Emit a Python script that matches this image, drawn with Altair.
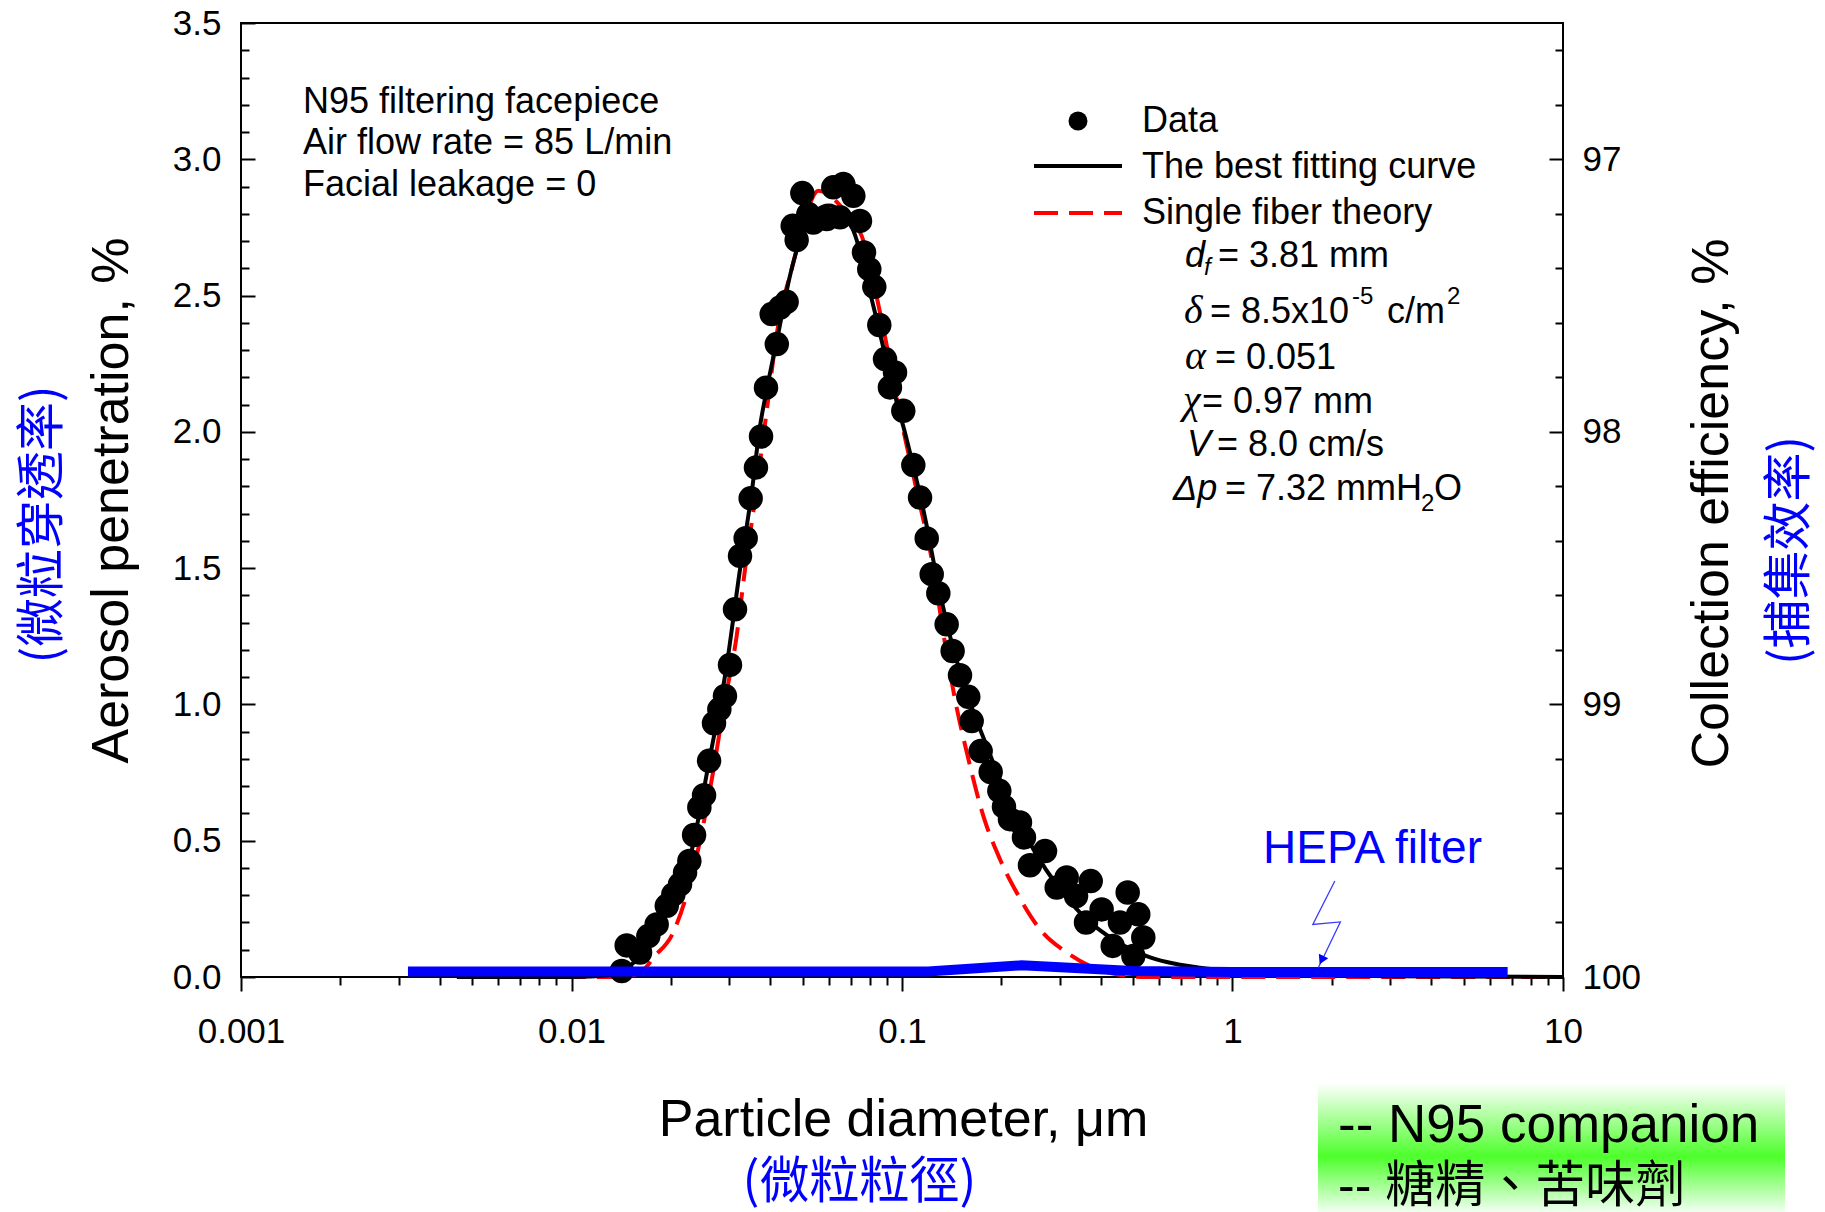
import altair as alt
import pandas as pd

# ------------------------------------------------------------------ data
# measured penetration of the N95 filtering facepiece (diameter in um, penetration in %)
data_diam = [0.01419, 0.01469, 0.01612, 0.01708, 0.01810, 0.01942, 0.02033, 0.02130, 0.02206,
             0.02273, 0.02349, 0.02437, 0.02518, 0.02608, 0.02699, 0.02801, 0.02913, 0.03017,
             0.03124, 0.03235, 0.03365, 0.03484, 0.03615, 0.03745, 0.03877, 0.04034, 0.04180,
             0.04275, 0.04477, 0.04669, 0.04800, 0.04994, 0.05207, 0.05390, 0.05917, 0.06197,
             0.06492, 0.06645, 0.07125, 0.07463, 0.07674, 0.07962, 0.08245, 0.08537, 0.08884,
             0.09194, 0.09525, 0.1009, 0.1082, 0.1134, 0.1188, 0.1230, 0.1288, 0.1365, 0.1423,
             0.1498, 0.1587, 0.1625, 0.1730, 0.1855, 0.1970, 0.2035, 0.2122, 0.2275, 0.2339,
             0.2439, 0.2709, 0.2938, 0.3150, 0.3362, 0.3604, 0.3724, 0.4018, 0.4340, 0.4565,
             0.4818, 0.5012, 0.5187, 0.5371]
data_pen = [0.022, 0.116, 0.090, 0.150, 0.193, 0.261, 0.303, 0.340, 0.383,
            0.426, 0.521, 0.622, 0.667, 0.793, 0.931, 0.982, 1.031, 1.145,
            1.349, 1.545, 1.610, 1.756, 1.869, 1.983, 2.162, 2.432, 2.322,
            2.456, 2.477, 2.756, 2.704, 2.876, 2.799, 2.768, 2.781, 2.897,
            2.787, 2.909, 2.866, 2.774, 2.658, 2.597, 2.532, 2.392, 2.267,
            2.163, 2.218, 2.077, 1.878, 1.759, 1.609, 1.478, 1.408, 1.294, 1.196,
            1.107, 1.028, 0.939, 0.829, 0.752, 0.683, 0.625, 0.579, 0.567, 0.512,
            0.410, 0.462, 0.328, 0.365, 0.297, 0.200, 0.352, 0.248, 0.114, 0.200,
            0.310, 0.077, 0.230, 0.145]

# best fitting curve
fit_diam = [0.0045, 0.010, 0.0131, 0.0150, 0.0165, 0.0195, 0.0227, 0.0261, 0.0295, 0.0323,
            0.0351, 0.0372, 0.0390, 0.0423, 0.0458, 0.0500, 0.0550, 0.0600, 0.0650, 0.0713,
            0.0819, 0.0941, 0.1033, 0.1188, 0.1259, 0.1397, 0.1606, 0.1804, 0.2074, 0.2497,
            0.3007, 0.3622, 0.4359, 0.5500, 0.6322, 0.7974, 1.006, 1.5, 3.0, 10.0]
fit_pen = [0.0, 0.0, 0.006, 0.040, 0.090, 0.250, 0.426, 0.793, 1.145, 1.490,
           1.778, 2.022, 2.157, 2.365, 2.572, 2.730, 2.810, 2.830, 2.810, 2.738,
           2.462, 2.157, 1.973, 1.655, 1.496, 1.251, 1.007, 0.848, 0.664, 0.469,
           0.322, 0.212, 0.138, 0.077, 0.055, 0.034, 0.022, 0.010, 0.003, 0.0]

# single fiber theory
theory_diam = [0.0045, 0.0140, 0.0155, 0.0165, 0.0177, 0.0203, 0.0234, 0.0269, 0.0288, 0.0316,
               0.0335, 0.0360, 0.0390, 0.0418, 0.0469, 0.0520, 0.0558, 0.0600, 0.0650, 0.0700,
               0.0755, 0.0858, 0.0998, 0.1111, 0.1244, 0.1334, 0.1446, 0.1588, 0.1762, 0.1979,
               0.2223, 0.2616, 0.3150, 0.3706, 0.4456, 0.5500, 1.0, 10.0]
theory_pen = [0.0, 0.0, 0.008, 0.025, 0.071, 0.163, 0.395, 0.762, 0.982, 1.251,
              1.496, 1.760, 2.080, 2.360, 2.620, 2.820, 2.885, 2.870, 2.830, 2.780,
              2.719, 2.438, 2.034, 1.778, 1.500, 1.260, 1.020, 0.800, 0.591, 0.432,
              0.310, 0.175, 0.090, 0.040, 0.010, 0.0, 0.0, 0.0]

# HEPA filter
hepa_diam = [0.0032, 0.12, 0.23, 0.5, 1.0, 6.8]
hepa_pen = [0.020, 0.020, 0.043, 0.022, 0.018, 0.018]

# lightning-bolt pointer to the HEPA curve (data units)
bolt_diam = [2.04, 1.75, 2.12, 1.82]
bolt_pen = [0.352, 0.193, 0.202, 0.035]
bolt_order = [0, 1, 2, 3]
bolt_head_diam = [1.86]
bolt_head_pen = [0.062]

# tick values
x_major = [0.001, 0.01, 0.1, 1, 10]
x_minor = [0.002, 0.003, 0.004, 0.005, 0.006, 0.007, 0.008, 0.009,
           0.02, 0.03, 0.04, 0.05, 0.06, 0.07, 0.08, 0.09,
           0.2, 0.3, 0.4, 0.5, 0.6, 0.7, 0.8, 0.9,
           2, 3, 4, 5, 6, 7, 8, 9]
pen_major = [0.0, 0.5, 1.0, 1.5, 2.0, 2.5, 3.0, 3.5]
pen_minor = [0.1, 0.2, 0.3, 0.4, 0.6, 0.7, 0.8, 0.9, 1.1, 1.2, 1.3, 1.4, 1.6, 1.7, 1.8, 1.9,
             2.1, 2.2, 2.3, 2.4, 2.6, 2.7, 2.8, 2.9, 3.1, 3.2, 3.3, 3.4]
eff_major = [0, 1, 2, 3]          # collection efficiency 100, 99, 98, 97 %
eff_minor = [0.2, 0.4, 0.6, 0.8, 1.2, 1.4, 1.6, 1.8, 2.2, 2.4, 2.6, 2.8, 3.2, 3.4]

# ------------------------------------------------------------------ layout
W, H = 1322, 954
PL, PT, PR, PB = 241, 23, 262, 235
FONT = "Liberation Sans, Arial, Helvetica, sans-serif"
SERIF = "Liberation Serif, Times New Roman, serif"
CJK = "Noto Sans CJK TC, Noto Sans CJK SC, sans-serif"
BLUE = "#0000ff"
RED = "#ff0000"

xs = alt.Scale(type="log", domain=[0.001, 10], nice=False)
ys = alt.Scale(domain=[0, 3.5], nice=False, zero=False)


def X(axis=None):
    return alt.X("d:Q", scale=xs, axis=axis)


def Y(axis=None):
    return alt.Y("p:Q", scale=ys, axis=axis)


def frame(d, p):
    return pd.DataFrame({"d": d, "p": p})


tick_only = dict(labels=False, domain=False, grid=False, title=None,
                 tickColor="black", tickWidth=2)

ax_left = alt.Axis(orient="left", values=pen_major, format=".1f", tickSize=0, labelPadding=20,
                   domain=False, grid=False, labelOverlap=False,
                   labelFont=FONT, labelFontSize=35, labelColor="black",
                   title="Aerosol penetration, %", titleFont=FONT, titleFontSize=52,
                   titleFontWeight="normal", titleColor="black", titleAngle=270,
                   titleAlign="center", titleBaseline="middle", titleX=-130, titleY=477)
ax_left_major = alt.Axis(orient="right", offset=-W, values=pen_major, tickSize=14, **tick_only)
ax_left_minor = alt.Axis(orient="right", offset=-W, values=pen_minor, tickSize=8, **tick_only)
ax_left_cjk = alt.Axis(orient="left", labels=False, ticks=False, domain=False, grid=False,
                       title="(微粒穿透率)", titleFont=CJK, titleFontSize=49,
                       titleFontWeight="normal", titleColor=BLUE, titleAngle=270,
                       titleAlign="center", titleBaseline="middle", titleX=-199, titleY=501)

ax_right = alt.Axis(orient="right", values=eff_major, labelExpr="format(100 - datum.value, 'd')",
                    tickSize=0, labelPadding=19, domain=False, grid=False, labelOverlap=False,
                    labelFont=FONT, labelFontSize=35, labelColor="black",
                    title="Collection efficiency, %", titleFont=FONT, titleFontSize=52,
                    titleFontWeight="normal", titleColor="black", titleAngle=270,
                    titleAlign="center", titleBaseline="middle", titleX=148, titleY=480)
ax_right_major = alt.Axis(orient="left", offset=-W, values=eff_major, tickSize=14, **tick_only)
ax_right_minor = alt.Axis(orient="left", offset=-W, values=eff_minor, tickSize=8, **tick_only)
ax_right_cjk = alt.Axis(orient="right", labels=False, ticks=False, domain=False, grid=False,
                        title="(捕集效率)", titleFont=CJK, titleFontSize=49,
                        titleFontWeight="normal", titleColor=BLUE, titleAngle=270,
                        titleAlign="center", titleBaseline="middle", titleX=226, titleY=527)

ax_x = alt.Axis(orient="bottom", values=x_major,
                labelExpr="datum.value < 1 ? format(datum.value, '.3~f') : format(datum.value, 'd')",
                tickSize=14, tickWidth=2, tickColor="black", labelPadding=23, domain=False,
                grid=False, labelFlush=False, labelOverlap=False,
                labelFont=FONT, labelFontSize=35, labelColor="black",
                title="Particle diameter, μm", titleFont=FONT, titleFontSize=52,
                titleFontWeight="normal", titleColor="black", titleAlign="center",
                titleBaseline="alphabetic", titleX=662, titleY=158)
ax_x_minor = alt.Axis(orient="bottom", values=x_minor, tickSize=8, **tick_only)
ax_x_cjk = alt.Axis(orient="bottom", labels=False, ticks=False, domain=False, grid=False,
                    title="(微粒粒徑)", titleFont=CJK, titleFontSize=50, titleFontWeight="normal",
                    titleColor=BLUE, titleAlign="center", titleBaseline="middle",
                    titleX=618, titleY=205)

# ------------------------------------------------------------------ data layers
theory = alt.Chart(frame(theory_diam, theory_pen)).mark_line(
    color=RED, strokeWidth=4, strokeDash=[24, 11], interpolate="monotone"
).encode(x=X(ax_x_minor), y=Y(ax_left_major))

fit = alt.Chart(frame(fit_diam, fit_pen)).mark_line(
    color="black", strokeWidth=4, interpolate="monotone"
).encode(x=X(ax_x_cjk), y=Y(ax_left_minor))

points = alt.Chart(frame(data_diam, data_pen)).mark_circle(
    size=600, color="black", opacity=1
).encode(x=X(ax_x), y=Y(ax_left))

hepa = alt.Chart(frame(hepa_diam, hepa_pen)).mark_line(
    color=BLUE, strokeWidth=10, strokeCap="butt"
).encode(x=X(), y=Y(ax_right))

bolt_df = frame(bolt_diam, bolt_pen)
bolt_df["i"] = bolt_order
bolt = alt.Chart(bolt_df).mark_line(color="#3a3aff", strokeWidth=1.3).encode(
    x=X(), y=Y(ax_right_major), order=alt.Order("i:Q"))

bolt_head = alt.Chart(frame(bolt_head_diam, bolt_head_pen)).mark_point(
    shape="triangle-down", filled=True, size=110, angle=26, color=BLUE, opacity=1
).encode(x=X(), y=Y(ax_right_minor))

helper_l = alt.Chart(frame(hepa_diam, hepa_pen)).mark_line(opacity=0).encode(x=X(), y=Y(ax_left_cjk))
helper_r = alt.Chart(frame(hepa_diam, hepa_pen)).mark_line(opacity=0).encode(x=X(), y=Y(ax_right_cjk))

# ------------------------------------------------------------------ annotations
one = pd.DataFrame({"k": [0]})


def label(text, x, y, size, color="black", font=FONT, style="normal", align="left",
          baseline="alphabetic"):
    return alt.Chart(one).mark_text(
        text=text, font=font, fontSize=size, fontStyle=style, color=color,
        align=align, baseline=baseline
    ).encode(x=alt.value(x - PL), y=alt.value(y - PT))


notes = [
    label("N95 filtering facepiece", 303, 113, 36),
    label("Air flow rate = 85 L/min", 303, 154, 36),
    label("Facial leakage = 0", 303, 196, 36),
    # legend texts
    label("Data", 1142, 132, 36),
    label("The best fitting curve", 1142, 178, 36),
    label("Single fiber theory", 1142, 224, 36),
    # parameters
    label("d", 1185, 267, 36, style="italic"),
    label("f", 1204, 275, 24, style="italic"),
    label("= 3.81 mm", 1218, 267, 36),
    label("δ", 1184, 323, 40, font=SERIF, style="italic"),
    label("= 8.5x10", 1210, 323, 36),
    label("-5", 1352, 304, 24),
    label("c/m", 1387, 323, 36),
    label("2", 1447, 304, 24),
    label("α", 1185, 369, 40, font=SERIF, style="italic"),
    label("= 0.051", 1215, 369, 36),
    label("χ", 1183, 413, 40, font=SERIF, style="italic"),
    label("= 0.97 mm", 1202, 413, 36),
    label("V", 1187, 456, 36, style="italic"),
    label("= 8.0 cm/s", 1217, 456, 36),
    label("Δp", 1173, 500, 36, style="italic"),
    label("= 7.32 mmH", 1225, 500, 36),
    label("2", 1421, 511, 24),
    label("O", 1434, 500, 36),
    # HEPA
    label("HEPA filter", 1263, 863, 46, color=BLUE),
]

legend_dot = alt.Chart(one).mark_circle(size=360, color="black", opacity=1).encode(
    x=alt.value(1078 - PL), y=alt.value(121 - PT))
legend_fit = alt.Chart(one).mark_rule(color="black", strokeWidth=4).encode(
    x=alt.value(1034 - PL), x2=alt.value(1122 - PL), y=alt.value(166 - PT))
legend_theory = alt.Chart(one).mark_rule(color=RED, strokeWidth=4, strokeDash=[24, 11]).encode(
    x=alt.value(1034 - PL), x2=alt.value(1122 - PL), y=alt.value(213 - PT))

green = alt.LinearGradient(
    gradient="linear", x1=0, x2=0, y1=0, y2=1,
    stops=[alt.GradientStop(color="#ffffff", offset=0),
           alt.GradientStop(color="#4dff2b", offset=0.57),
           alt.GradientStop(color="#f2fff2", offset=1)])
box = alt.Chart(one).mark_rect(fill=green, strokeWidth=0).encode(
    x=alt.value(1318 - PL), x2=alt.value(1785 - PL), y=alt.value(1083 - PT), y2=alt.value(1212 - PT))
box_text = [
    label("-- N95 companion", 1338, 1142, 53),
    label("-- 糖精、苦味劑", 1338, 1202, 50, font="Liberation Sans, Noto Sans CJK TC, sans-serif"),
]

chart = alt.layer(
    theory, fit, points, hepa, bolt, bolt_head, helper_l, helper_r,
    legend_dot, legend_fit, legend_theory, *notes, box, *box_text
).resolve_scale(
    x="independent", y="independent"
).properties(
    width=W, height=H,
    autosize=alt.AutoSizeParams(type="none"),
    padding={"left": PL, "top": PT, "right": PR, "bottom": PB},
    background="white",
).configure_view(stroke="black", strokeWidth=2)

chart.save("out.html", embed_options={"renderer": "svg", "actions": False})
